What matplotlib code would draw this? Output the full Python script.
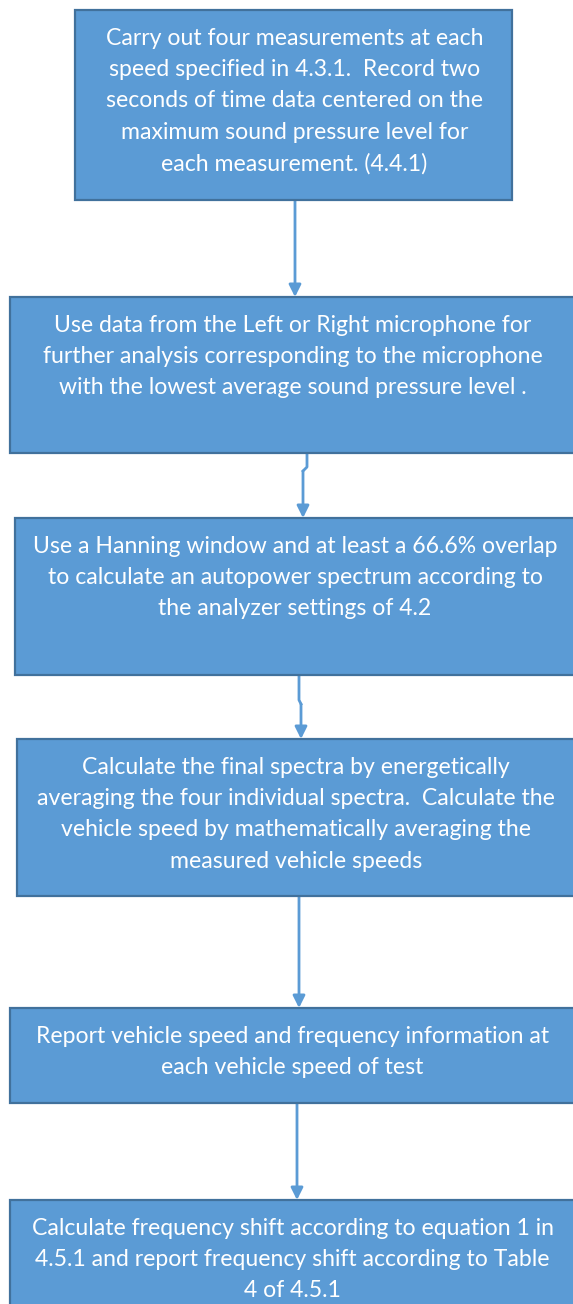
import matplotlib.pyplot as plt
from matplotlib.patches import Rectangle

# step texts, top to bottom
steps = [
    "Carry out four measurements at each\nspeed specified in 4.3.1.  Record two\n"
    "seconds of time data centered on the\nmaximum sound pressure level for\n"
    "each measurement. (4.4.1)",
    "Use data from the Left or Right microphone for\nfurther analysis corresponding to the microphone\n"
    "with the lowest average sound pressure level .",
    "Use a Hanning window and at least a 66.6% overlap\nto calculate an autopower spectrum according to\n"
    "the analyzer settings of 4.2",
    "Calculate the final spectra by energetically\naveraging the four individual spectra.  Calculate the\n"
    "vehicle speed by mathematically averaging the\nmeasured vehicle speeds",
    "Report vehicle speed and frequency information at\neach vehicle speed of test",
    "Calculate frequency shift according to equation 1 in\n4.5.1 and report frequency shift according to Table\n"
    "4 of 4.5.1",
]

# layout in pixels (x0, x1, y_top, y_bottom)
boxes = [
    (75, 512, 10, 200),
    (10, 580, 297, 453),
    (15, 580, 518, 675),
    (17, 580, 739, 896),
    (10, 580, 1008, 1103),
    (10, 580, 1200, 1320),
]
# connector paths between boxes (list of x,y points)
links = [
    [(295, 200), (295, 297)],
    [(307, 453), (307, 467), (303, 471), (303, 518)],
    [(299, 675), (299, 700), (301, 704), (301, 739)],
    [(299, 896), (299, 1008)],
    [(297, 1103), (297, 1200)],
]

FILL = "#5B9BD5"
EDGE = "#41719C"
W, H = 573, 1304

fig = plt.figure(figsize=(W / 100, H / 100), dpi=100)
ax = fig.add_axes([0, 0, 1, 1])
ax.set_xlim(0, W)
ax.set_ylim(H, 0)
ax.axis("off")

for (x0, x1, y0, y1), txt in zip(boxes, steps):
    ax.add_patch(Rectangle((x0, y0), x1 - x0, y1 - y0, facecolor=FILL,
                           edgecolor=EDGE, linewidth=1.6, zorder=2))
    cx = (x0 + min(x1, W)) / 2 if x1 > W else (x0 + x1) / 2
    ax.text(cx + 1, y0 + 18, txt, ha="center", va="top", color="white",
            fontsize=16.6, family="Lato", linespacing=1.6, zorder=3)

for path in links:
    xs, ys = zip(*path)
    ax.plot(xs[:-1], ys[:-1], color=FILL, lw=2, zorder=1)
    ax.annotate("", xy=path[-1], xytext=path[-2],
                arrowprops=dict(arrowstyle="-|>", color=FILL, lw=2,
                                mutation_scale=18, shrinkA=0, shrinkB=0),
                zorder=1)

fig.savefig("out.png", dpi=100)
